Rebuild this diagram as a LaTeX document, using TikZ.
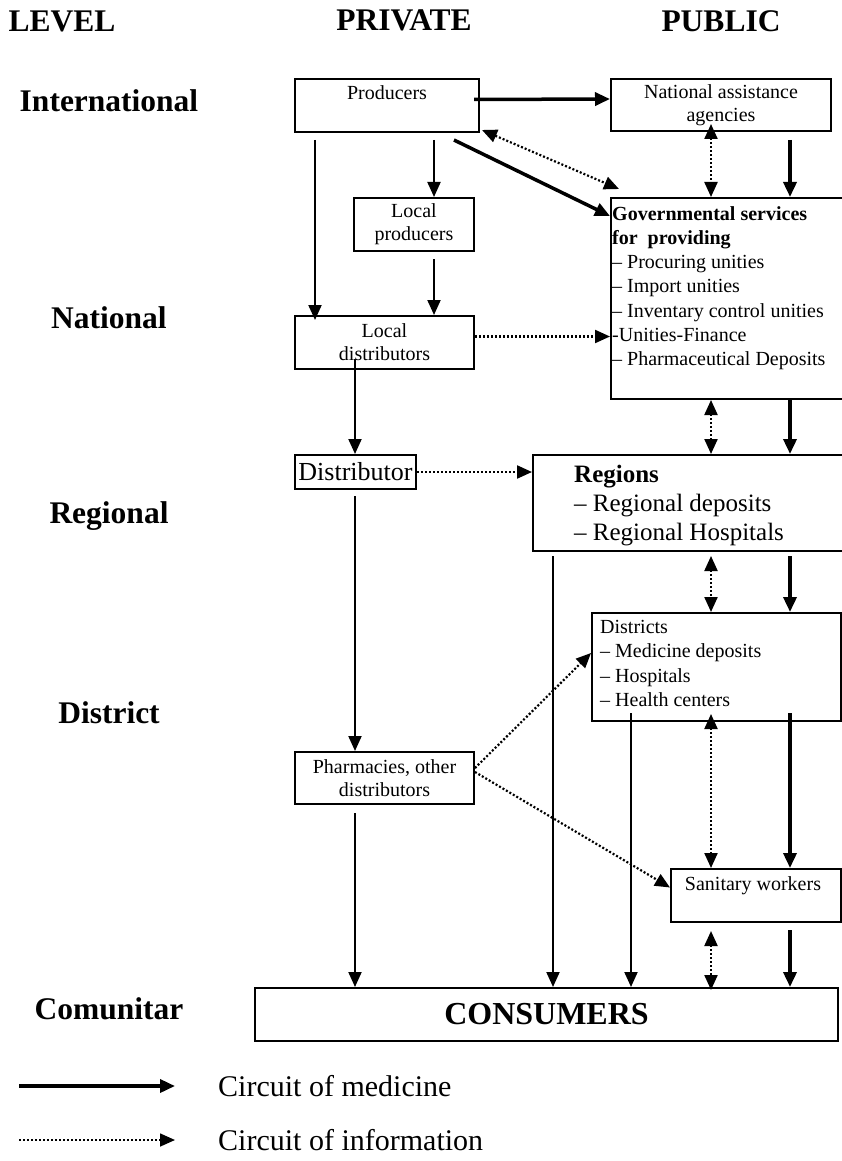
\documentclass[tikz,border=0pt]{standalone}
\usepackage{fontspec}
\setmainfont{Liberation Serif}
\usetikzlibrary{arrows.meta, positioning, calc}

\newcommand{\lvlfont}{\fontsize{31.5}{36}\selectfont\bfseries}
\newcommand{\boxfont}{\fontsize{20}{23}\selectfont}
\newcommand{\listfont}{\fontsize{20}{24.3}\selectfont}
\newcommand{\regfont}{\fontsize{25}{29}\selectfont}
\newcommand{\legfont}{\fontsize{30}{34}\selectfont}

\begin{document}
\begin{tikzpicture}[x=1pt, y=-1pt, >={Triangle[length=15pt, width=13pt]},
  box/.style={draw, line width=2pt, inner sep=0pt, font=\boxfont, align=center},
  lvl/.style={anchor=base, font=\lvlfont},
  med/.style={->, line width=3.5pt},
  medthin/.style={->, line width=2pt},
  info/.style={->, line width=2.2pt, dash pattern=on 2pt off 2pt},
  infoboth/.style={info, <->}]
  \useasboundingbox (0,0) rectangle (842,1161);

  % headers and levels
  \node[lvl] (hlevel) at (62,32) {LEVEL};
  \node[lvl] (hpriv) at (404,31) {PRIVATE};
  \node[lvl] (hpub) at (721,32) {PUBLIC};
  \node[lvl] (lint) at (109,112) {International};
  \node[lvl] (lnat) at (109,328) {National};
  \node[lvl] (lreg) at (109,523) {Regional};
  \node[lvl] (ldis) at (109,723) {District};
  \node[lvl] (lcom) at (109,1019) {Comunitar};

  % private side
  \node[box, minimum width=184pt, minimum height=53pt] (prod) at (387,105.5) {};
  \node[anchor=base, font=\boxfont] (prodtxt) at (387,100) {Producers};
  \node[box, minimum width=120pt, minimum height=53pt] (lprod) at (414,224.5) {Local\\producers};
  \node[box, minimum width=179pt, minimum height=53pt] (ldist) at (384.5,342.5) {Local\\distributors};
  \node[box, minimum width=121pt, minimum height=34pt, font=\fontsize{26}{30}\selectfont] (dist) at (355.5,472) {Distributor};
  \node[box, minimum width=179pt, minimum height=52pt] (pharm) at (384.5,778) {Pharmacies, other\\distributors};

  % public side
  \node[box, minimum width=220pt, minimum height=52pt] (nat) at (721,105) {National assistance\\agencies};
  \node[box, minimum width=239pt, minimum height=201pt] (gov) at (730.5,298.5) {};
  \node[anchor=north west, inner sep=0pt, font=\listfont, align=left] (govtxt) at (612,206)
    {\textbf{Governmental services}\\\textbf{for\ \ providing}\\– Procuring unities\\– Import unities\\– Inventary control unities\\-Unities-Finance\\– Pharmaceutical Deposits};
  \node[box, minimum width=317pt, minimum height=96pt] (reg) at (691.5,503) {};
  \node[anchor=north west, inner sep=0pt, font=\regfont, align=left] (regtxt) at (574,465)
    {\textbf{Regions}\\– Regional deposits\\– Regional Hospitals};
  \node[box, minimum width=249pt, minimum height=108pt] (dists) at (716.5,667) {};
  \node[anchor=north west, inner sep=0pt, font=\listfont, align=left] (diststxt) at (600,620)
    {Districts\\– Medicine deposits\\– Hospitals\\– Health centers};
  \node[box, minimum width=170pt, minimum height=53pt] (san) at (756,895.5) {};
  \node[anchor=base, font=\boxfont] (santxt) at (753,890) {Sanitary workers};
  \node[box, minimum width=583pt, minimum height=53pt, font=\fontsize{32}{36}\selectfont\bfseries] (cons) at (546.5,1014.5) {CONSUMERS};

  % arrow columns
  \coordinate (cA) at (315,0);
  \coordinate (cB) at (434,0);
  \coordinate (cC) at (355,0);
  \coordinate (cR) at (553,0);
  \coordinate (cD) at (631,0);
  \coordinate (cI) at (711,0);
  \coordinate (cM) at (790,0);

  % private circuit
  \draw[medthin] ($(prod.south -| cA)+(0,7)$) -- ($(ldist.north -| cA)+(0,5)$);
  \draw[medthin] ($(prod.south -| cB)+(0,7)$) -- (lprod.north -| cB);
  \draw[medthin] ($(lprod.south -| cB)+(0,7)$) -- (ldist.north -| cB);
  \draw[medthin] ($(ldist.south -| cC)+(0,-11)$) -- (dist.north -| cC);
  \draw[medthin] ($(dist.south -| cC)+(0,6)$) -- (pharm.north -| cC);
  \draw[medthin] ($(pharm.south -| cC)+(0,8)$) -- (cons.north -| cC);

  % producers to public
  \draw[med] ($(prod.east)+(-6,-6)$) -- ($(nat.west)+(0,-6)$);
  \draw[infoboth] ($(prod.south east)+(2,-3)$) -- ($(gov.north west)+(9,-8)$);
  \draw[med] ($(prod.south east)+(-26,7)$) -- ($(gov.north west)+(0,19)$);

  % public circuit
  \draw[med] ($(nat.south -| cM)+(0,8)$) -- (gov.north -| cM);
  \draw[infoboth] ($(nat.south -| cI)+(0,-8)$) -- (gov.north -| cI);
  \draw[med] ($(gov.south -| cM)+(0,-2)$) -- (reg.north -| cM);
  \draw[infoboth] (gov.south -| cI) -- (reg.north -| cI);
  \draw[med] ($(reg.south -| cM)+(0,4)$) -- (dists.north -| cM);
  \draw[infoboth] ($(reg.south -| cI)+(0,4)$) -- (dists.north -| cI);
  \draw[med] ($(dists.south -| cM)+(0,-9)$) -- (san.north -| cM);
  \draw[infoboth] ($(dists.south -| cI)+(0,-8)$) -- (san.north -| cI);
  \draw[med] ($(san.south -| cM)+(0,7)$) -- (cons.north -| cM);
  \draw[infoboth] ($(san.south -| cI)+(0,8)$) -- ($(cons.north -| cI)+(0,3)$);
  \draw[medthin] ($(reg.south -| cR)+(0,4)$) -- (cons.north -| cR);
  \draw[medthin] ($(dists.south -| cD)+(0,-9)$) -- (cons.north -| cD);

  % information from private side
  \coordinate (ldE) at ($(ldist.east)+(0,-6)$);
  \draw[info] (ldE) -- (ldE -| gov.west);
  \draw[info] (dist.east) -- (dist.east -| reg.west);
  \draw[info] ($(pharm.east)+(0,-10)$) -- ($(dists.west)+(0,-14)$);
  \draw[info] ($(pharm.east)+(0,-6)$) -- ($(san.west)+(0,-8)$);

  % legend
  \coordinate (lgma) at (19,1086);
  \coordinate (lgmb) at (175,1086);
  \draw[med] (lgma) -- (lgmb);
  \node[anchor=base west, inner sep=0pt, font=\legfont] (legmed) at (218,1096) {Circuit of medicine};
  \coordinate (lgia) at (19,1140);
  \coordinate (lgib) at (175,1140);
  \draw[info, line width=1.6pt] (lgia) -- (lgib);
  \node[anchor=base west, inner sep=0pt, font=\legfont] (leginfo) at (218,1150) {Circuit of information};
\end{tikzpicture}
\end{document}
